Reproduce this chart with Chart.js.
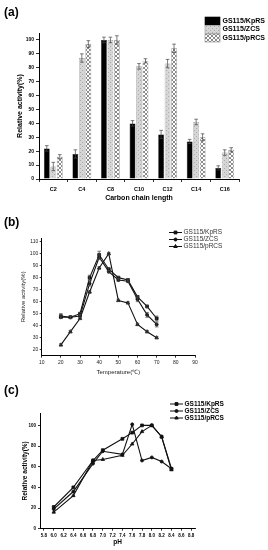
<!DOCTYPE html>
<html>
<head>
<meta charset="utf-8">
<script src="https://cdn.jsdelivr.net/npm/chart.js@4.4.1/dist/chart.umd.min.js"></script>
<style>
  html, body { margin: 0; padding: 0; background: #fff; }
  body { width: 268px; height: 550px; position: relative; overflow: hidden; font-family: "Liberation Sans", Arial, sans-serif; }
  canvas { position: absolute; left: 0; }
  .tag { position: absolute; left: 4px; font-weight: bold; font-size: 12px; line-height: 12px; z-index: 2; }
</style>
</head>
<body>
<canvas id="chainChart" style="top:0" width="268" height="205"></canvas>
<canvas id="tempChart" style="top:205px" width="268" height="175"></canvas>
<canvas id="phChart" style="top:380px" width="268" height="170"></canvas>
<div class="tag" style="top:6px">(a)</div>
<div class="tag" style="top:216px">(b)</div>
<div class="tag" style="top:384px">(c)</div>

<script>
const seriesNames = ['GS115/KpRS', 'GS115/ZCS', 'GS115/pRCS'];

// (a) substrate specificity
const chainLabels = ['C2', 'C4', 'C8', 'C10', 'C12', 'C14', 'C16'];
const chainKpRS = [22, 18, 100, 40, 32, 27, 8];
const chainZCS = [9, 87, 100, 81, 83, 41, 19];
const chainPRCS = [16, 97, 100, 85, 94, 30, 21];
const chainKpRSErr = [2, 3, 2, 2, 3, 1.5, 1.5];
const chainZCSErr = [3, 3, 2, 2, 3, 2, 2];
const chainPRCSErr = [1.5, 2.5, 3, 1.5, 3, 2.5, 1.5];
const chainYTicks = [0, 10, 20, 30, 40, 50, 60, 70, 80, 90, 100];

// (b) temperature
const temps = [20, 25, 30, 35, 40, 45, 50, 55, 60, 65, 70];
const tempKpRS = [48, 47, 50, 80, 99, 87, 80, 78, 64, 56, 46];
const tempZCS = [47, 47, 48, 75, 97, 85, 78, 77, 62, 49, 41];
const tempPRCS = [24, 35, 46, 68, 88, 100, 61, 59, 41, 35, 30];
const tempKpRSErr = [2, 1, 1, 2, 3, 1, 1, 1, 1, 1, 2];
const tempZCSErr = [1, 1, 1, 2, 2, 1, 1, 1, 2, 2, 2];
const tempPRCSErr = [1, 1, 1, 1, 1, 1, 1, 1, 1, 1, 1];
const tempXTicks = [10, 20, 30, 40, 50, 60, 70, 80, 90];
const tempYTicks = [20, 30, 40, 50, 60, 70, 80, 90, 100, 110];

// (c) pH
const phs = [6.0, 6.4, 6.8, 7.0, 7.4, 7.6, 7.8, 8.0, 8.2, 8.4];
const phKpRS = [21, 40, 66, 76, 87, 93, 100, 100, 89, 58];
const phZCS = [19, 36, 63, 75, 72, 101, 66, 69, 65, 58];
const phPRCS = [16, 32, 66, 67, 71, 82, 94, 100, 89, 57];
const phXTicks = [5.8, 6.0, 6.2, 6.4, 6.6, 6.8, 7.0, 7.2, 7.4, 7.6, 7.8, 8.0, 8.2, 8.4, 8.6, 8.8];
const phYTicks = [0, 20, 40, 60, 80, 100];

Chart.defaults.font.family = '"Liberation Sans", Arial, sans-serif';
Chart.defaults.color = '#000';

function makePattern(bg, fg, kind) {
    const c = document.createElement('canvas');
    c.width = 4; c.height = 4;
    const g = c.getContext('2d');
    g.fillStyle = bg;
    g.fillRect(0, 0, 4, 4);
    g.fillStyle = fg;
    if (kind === 'dots') {
        g.fillRect(0, 0, 1, 1);
        g.fillRect(2, 2, 1, 1);
    } else {
        for (let i = 0; i < 4; i++) {
            g.fillRect(i, i, 1, 1);
            g.fillRect(3 - i, i, 1, 1);
        }
    }
    return g.createPattern(c, 'repeat');
}

const dotFill = makePattern('#d6d6d6', '#a9a9a9', 'dots');
const crossFill = makePattern('#ffffff', '#8c8c8c', 'cross');

// vertical error bars from dataset.errors
const errorBars = {
    id: 'errorBars',
    afterDatasetsDraw(chart) {
        const ctx = chart.ctx;
        const yScale = chart.scales.y;
        chart.data.datasets.forEach((ds, i) => {
            if (!ds.errors) return;
            const meta = chart.getDatasetMeta(i);
            ctx.save();
            ctx.strokeStyle = ds.errorColor || '#444';
            ctx.lineWidth = 0.7;
            meta.data.forEach((el, j) => {
                const e = ds.errors[j];
                if (!e) return;
                const raw = ds.data[j];
                const v = typeof raw === 'object' ? raw.y : raw;
                const top = yScale.getPixelForValue(v + e);
                const bot = yScale.getPixelForValue(v - e);
                const cap = ds.errorCap || 1.8;
                ctx.beginPath();
                ctx.moveTo(el.x, top); ctx.lineTo(el.x, bot);
                ctx.moveTo(el.x - cap, top); ctx.lineTo(el.x + cap, top);
                ctx.moveTo(el.x - cap, bot); ctx.lineTo(el.x + cap, bot);
                ctx.stroke();
            });
            ctx.restore();
        });
    }
};

// legend block placed freely in the top right corner
const cornerLegend = {
    id: 'cornerLegend',
    afterDraw(chart, args, opts) {
        const ctx = chart.ctx;
        ctx.save();
        ctx.font = opts.font;
        ctx.textBaseline = 'middle';
        chart.data.datasets.forEach((ds, i) => {
            const y = opts.y + i * opts.rowGap;
            if (opts.kind === 'box') {
                ctx.fillStyle = ds.backgroundColor;
                ctx.fillRect(opts.x, y - opts.boxH / 2, opts.boxW, opts.boxH);
                ctx.strokeStyle = ds.borderColor;
                ctx.lineWidth = 0.6;
                ctx.strokeRect(opts.x, y - opts.boxH / 2, opts.boxW, opts.boxH);
            } else {
                ctx.strokeStyle = '#111';
                ctx.fillStyle = '#111';
                ctx.lineWidth = 1;
                ctx.beginPath();
                ctx.moveTo(opts.x, y);
                ctx.lineTo(opts.x + opts.boxW, y);
                ctx.stroke();
                Chart.helpers.drawPoint(ctx, {pointStyle: ds.pointStyle, radius: ds.pointRadius, rotation: 0, borderWidth: 1},
                    opts.x + opts.boxW / 2, y);
            }
            ctx.fillStyle = opts.color;
            ctx.fillText(ds.label, opts.x + opts.boxW + opts.gap, y);
        });
        ctx.restore();
    }
};

function fixedTicks(values) {
    return scale => { scale.ticks = values.map(v => ({value: v})); };
}

function axisStyle(tickLength) {
    return {
        grid: {drawOnChartArea: false, drawTicks: true, tickLength: tickLength, color: '#000', lineWidth: 0.8},
        border: {display: true, color: '#000', width: 1}
    };
}

// (a) bars
new Chart(document.getElementById('chainChart'), {
    type: 'bar',
    data: {
        labels: chainLabels,
        datasets: [
            {label: seriesNames[0], data: chainKpRS, errors: chainKpRSErr, backgroundColor: '#000', borderColor: '#000', borderWidth: 0.5},
            {label: seriesNames[1], data: chainZCS, errors: chainZCSErr, backgroundColor: dotFill, borderColor: '#999', borderWidth: 0.6},
            {label: seriesNames[2], data: chainPRCS, errors: chainPRCSErr, backgroundColor: crossFill, borderColor: '#888', borderWidth: 0.6}
        ]
    },
    options: {
        responsive: false,
        animation: false,
        layout: {padding: {top: 33, right: 29, bottom: 0, left: 0}},
        datasets: {bar: {categoryPercentage: 0.68, barPercentage: 0.9}},
        plugins: {
            legend: {display: false},
            tooltip: {enabled: false},
            cornerLegend: {kind: 'box', x: 205, y: 21, rowGap: 8.5, boxW: 15, boxH: 8, gap: 2.5,
                font: 'bold 7px "Liberation Sans", Arial, sans-serif', color: '#000'}
        },
        scales: {
            x: {
                ...axisStyle(3),
                ticks: {font: {size: 5.5, weight: 'bold'}, color: '#000', padding: 4},
                title: {display: true, text: 'Carbon chain length', font: {size: 7, weight: 'bold'}, color: '#000', padding: {top: 0, bottom: 3}},
                afterFit: s => { s.height = 26; }
            },
            y: {
                ...axisStyle(3),
                min: 0,
                max: 105,
                afterBuildTicks: fixedTicks(chainYTicks),
                ticks: {font: {size: 5, weight: 'bold'}, color: '#000', padding: 2},
                title: {display: true, text: 'Relative activity(%)', font: {size: 7, weight: 'bold'}, color: '#000', padding: {top: 16, bottom: 0}},
                afterFit: s => { s.width = 39; }
            }
        }
    },
    plugins: [errorBars, cornerLegend]
});

function lineSet(name, xs, ys, errs, style) {
    return {
        label: name,
        data: xs.map((x, i) => ({x: x, y: ys[i]})),
        errors: errs,
        borderColor: '#111',
        backgroundColor: '#111',
        borderWidth: 1.1,
        pointStyle: style,
        pointRadius: style === 'circle' ? 1.5 : 2,
        pointBorderWidth: 0.8,
        tension: 0
    };
}

// (b) temperature lines
new Chart(document.getElementById('tempChart'), {
    type: 'line',
    data: {
        datasets: [
            lineSet(seriesNames[0], temps, tempKpRS, tempKpRSErr, 'rect'),
            lineSet(seriesNames[1], temps, tempZCS, tempZCSErr, 'circle'),
            lineSet(seriesNames[2], temps, tempPRCS, tempPRCSErr, 'triangle')
        ]
    },
    options: {
        responsive: false,
        animation: false,
        layout: {padding: {top: 33, right: 73, bottom: 0, left: 0}},
        plugins: {
            legend: {display: false},
            tooltip: {enabled: false},
            cornerLegend: {kind: 'line', x: 169, y: 27.5, rowGap: 7, boxW: 13, gap: 1.5,
                font: '6.5px "Liberation Sans", Arial, sans-serif', color: '#333'}
        },
        scales: {
            x: {
                type: 'linear',
                ...axisStyle(2),
                min: 10,
                max: 90,
                afterBuildTicks: fixedTicks(tempXTicks),
                ticks: {font: {size: 5}, color: '#222', padding: 1.5},
                title: {display: true, text: 'Temperature(℃)', font: {size: 6}, color: '#222', padding: {top: 0, bottom: 4.5}},
                afterFit: s => { s.height = 24.3; }
            },
            y: {
                ...axisStyle(2),
                min: 15,
                max: 113,
                afterBuildTicks: fixedTicks(tempYTicks),
                ticks: {font: {size: 5}, color: '#222', padding: 1.5},
                title: {display: true, text: 'Relative activity(%)', font: {size: 6}, color: '#222', padding: {top: 20, bottom: 0}},
                afterFit: s => { s.width = 41.7; }
            }
        }
    },
    plugins: [errorBars, cornerLegend]
});

// (c) pH lines
new Chart(document.getElementById('phChart'), {
    type: 'line',
    data: {
        datasets: [
            lineSet(seriesNames[0], phs, phKpRS, null, 'rect'),
            lineSet(seriesNames[1], phs, phZCS, null, 'circle'),
            lineSet(seriesNames[2], phs, phPRCS, null, 'triangle')
        ]
    },
    options: {
        responsive: false,
        animation: false,
        layout: {padding: {top: 33, right: 73, bottom: 0, left: 0}},
        plugins: {
            legend: {display: false},
            tooltip: {enabled: false},
            cornerLegend: {kind: 'line', x: 170, y: 24, rowGap: 7, boxW: 13, gap: 1.5,
                font: 'bold 6.5px "Liberation Sans", Arial, sans-serif', color: '#000'}
        },
        scales: {
            x: {
                type: 'linear',
                ...axisStyle(2),
                min: 5.72,
                max: 8.88,
                afterBuildTicks: fixedTicks(phXTicks),
                ticks: {font: {size: 4.5, weight: 'bold'}, color: '#000', padding: 2, autoSkip: false, maxRotation: 0,
                    callback: v => Number(v).toFixed(1)},
                title: {display: true, text: 'pH', font: {size: 6.5, weight: 'bold'}, color: '#000', padding: {top: 0, bottom: 3.4}},
                afterFit: s => { s.height = 21.3; }
            },
            y: {
                ...axisStyle(2),
                min: 0,
                max: 112,
                afterBuildTicks: fixedTicks(phYTicks),
                ticks: {font: {size: 4.5, weight: 'bold'}, color: '#000', padding: 2},
                title: {display: true, text: 'Relative activity(%)', font: {size: 6.5, weight: 'bold'}, color: '#000', padding: {top: 21, bottom: 0}},
                afterFit: s => { s.width = 40; }
            }
        }
    },
    plugins: [cornerLegend]
});
</script>
</body>
</html>
